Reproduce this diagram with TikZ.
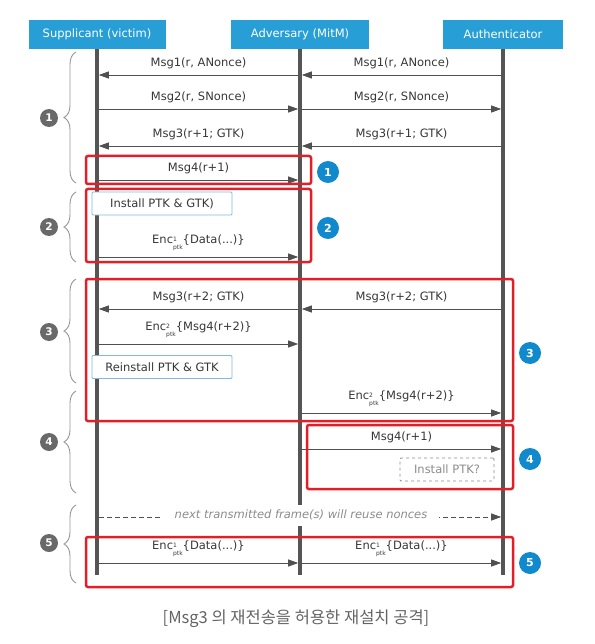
\documentclass[tikz,border=0pt]{standalone}
\usepackage{fontspec}
\setmainfont{DejaVu Sans}
\newfontfamily\krfont{Noto Sans CJK KR}
\usetikzlibrary{arrows.meta,decorations.pathreplacing}
\definecolor{hdr}{RGB}{40,158,214}
\definecolor{bluec}{RGB}{16,138,204}
\definecolor{grayc}{RGB}{105,105,105}
\definecolor{redc}{RGB}{226,30,40}
\definecolor{lifec}{RGB}{85,85,85}
\definecolor{arrc}{RGB}{80,80,80}
\definecolor{txt}{RGB}{55,55,55}
\definecolor{bracec}{RGB}{150,150,150}
\definecolor{boxc}{RGB}{130,185,225}
\definecolor{qc}{RGB}{140,140,140}
\definecolor{capc}{RGB}{100,100,100}
\newcommand\encsym[1]{Enc\raisebox{-0.9ex}{\fontsize{6}{6.5}\selectfont\shortstack[l]{#1\\ptk}}}
\begin{document}
\begin{tikzpicture}[x=1pt,y=-1pt,font=\fontsize{11.5}{13}\selectfont,
  actor/.style={fill=hdr,text=white,minimum height=29pt,inner sep=0pt,font=\fontsize{11.5}{13}\selectfont},
  life/.style={draw=lifec,line width=3.5pt},
  msg/.style={draw=arrc,line width=0.9pt,-{Triangle[length=10pt,width=7pt]},shorten >=1.8pt,shorten <=1.8pt},
  dmsg/.style={msg,dash pattern=on 5pt off 3pt},
  lbl/.style={text=txt,inner sep=0pt,above=6pt},
  redbox/.style={draw=redc,line width=2.5pt,rounded corners=2pt},
  instbox/.style={draw=boxc,fill=white,line width=0.9pt,rounded corners=1pt,minimum width=140pt,minimum height=23pt,inner sep=0pt,text=txt},
  qbox/.style={draw=qc,dashed,fill=white,line width=0.8pt,rounded corners=1pt,minimum width=94pt,minimum height=23pt,inner sep=0pt,text=qc},
  bnum/.style={circle,fill=bluec,text=white,minimum size=22pt,inner sep=0pt,font=\bfseries\fontsize{11}{13}\selectfont},
  gnum/.style={circle,fill=grayc,text=white,minimum size=18pt,inner sep=0pt,font=\bfseries\fontsize{10.5}{12}\selectfont},
  brc/.style={draw=bracec,line width=0.9pt,decorate,decoration={brace,amplitude=12pt}}]
\useasboundingbox (0,0) rectangle (594,644);
% actors
\node[actor,minimum width=137pt] (S) at (97,34.5) {Supplicant (victim)};
\node[actor,minimum width=138pt] (A) at (300,34.5) {Adversary (MitM)};
\node[actor,minimum width=120pt] (U) at (503,34.5) {Authenticator};
\coordinate (Se) at (97,575);
\coordinate (Ae) at (300,575);
\coordinate (Ue) at (503,575);
\draw[life] (S.south) -- (Se);
\draw[life] (A.south) -- (Ae);
\draw[life] (U.south) -- (Ue);
% row coordinates
\foreach \n/\y in {r1/75,r2/109,r3/146,r4/180,r5/257,r6/309,r7/344,r8/413,r9/449,r10/517,r11/563}{
  \coordinate (S\n) at (97,\y);
  \coordinate (A\n) at (300,\y);
  \coordinate (U\n) at (503,\y);
}
% messages
\draw[msg] (Ur1) -- (Ar1) node[lbl,midway] {Msg1(r, ANonce)};
\draw[msg] (Ar1) -- (Sr1) node[lbl,midway] {Msg1(r, ANonce)};
\draw[msg] (Sr2) -- (Ar2) node[lbl,midway] {Msg2(r, SNonce)};
\draw[msg] (Ar2) -- (Ur2) node[lbl,midway] {Msg2(r, SNonce)};
\draw[msg] (Ur3) -- (Ar3) node[lbl,midway] {Msg3(r+1; GTK)};
\draw[msg] (Ar3) -- (Sr3) node[lbl,midway] {Msg3(r+1; GTK)};
\draw[msg] (Sr4) -- (Ar4) node[lbl,midway] {Msg4(r+1)};
\draw[msg] (Sr5) -- (Ar5) node[lbl,midway] {\encsym{1}\{Data(...)\}};
\draw[msg] (Ur6) -- (Ar6) node[lbl,midway] {Msg3(r+2; GTK)};
\draw[msg] (Ar6) -- (Sr6) node[lbl,midway] {Msg3(r+2; GTK)};
\draw[msg] (Sr7) -- (Ar7) node[lbl,midway] {\encsym{2}\{Msg4(r+2)\}};
\draw[msg] (Ar8) -- (Ur8) node[lbl,midway] {\encsym{2}\{Msg4(r+2)\}};
\draw[msg] (Ar9) -- (Ur9) node[lbl,midway] {Msg4(r+1)};
\draw[dmsg] (Sr10) -- (Ur10);
\node[fill=white,text=qc,font=\itshape\fontsize{11.5}{13}\selectfont,inner xsep=12pt,inner ysep=0pt,minimum height=21pt] (nt) at (301,515) {next transmitted frame(s) will reuse nonces};
\draw[msg] (Sr11) -- (Ar11) node[lbl,midway] {\encsym{1}\{Data(...)\}};
\draw[msg] (Ar11) -- (Ur11) node[lbl,midway] {\encsym{1}\{Data(...)\}};
% state boxes
\node[instbox] (i1) at (162,203.5) {Install PTK \& GTK)};
\node[instbox] (i2) at (162,367) {Reinstall PTK \& GTK};
\node[qbox] (i3) at (447,469.5) {Install PTK?};
% red highlight frames
\draw[redbox] (86,156) rectangle (311,184);
\draw[redbox] (86,189) rectangle (311,262);
\draw[redbox] (86,279) rectangle (513,421);
\draw[redbox] (307,425) rectangle (513,489);
\draw[redbox] (86,537) rectangle (513,587);
% blue numbers
\node[bnum] (b1) at (328,172) {1};
\node[bnum] (b2) at (328,228) {2};
\node[bnum] (b3) at (530,353) {3};
\node[bnum] (b4) at (530,459) {4};
\node[bnum] (b5) at (530,563) {5};
% braces and gray numbers
\draw[brc] (76,183) -- (76,52);
\draw[brc] (76,262) -- (76,192);
\draw[brc] (76,383) -- (76,279);
\draw[brc] (76,493) -- (76,391);
\draw[brc] (76,583) -- (76,505);
\node[gnum] (g1) at (49,118) {1};
\node[gnum] (g2) at (49,227) {2};
\node[gnum] (g3) at (49,332) {3};
\node[gnum] (g4) at (49,442) {4};
\node[gnum] (g5) at (49,543) {5};
% caption
\node[font=\krfont\fontsize{16.5}{19}\selectfont,text=capc] (cap) at (296,619) {[Msg3 의 재전송을 허용한 재설치 공격]};
\end{tikzpicture}
\end{document}
